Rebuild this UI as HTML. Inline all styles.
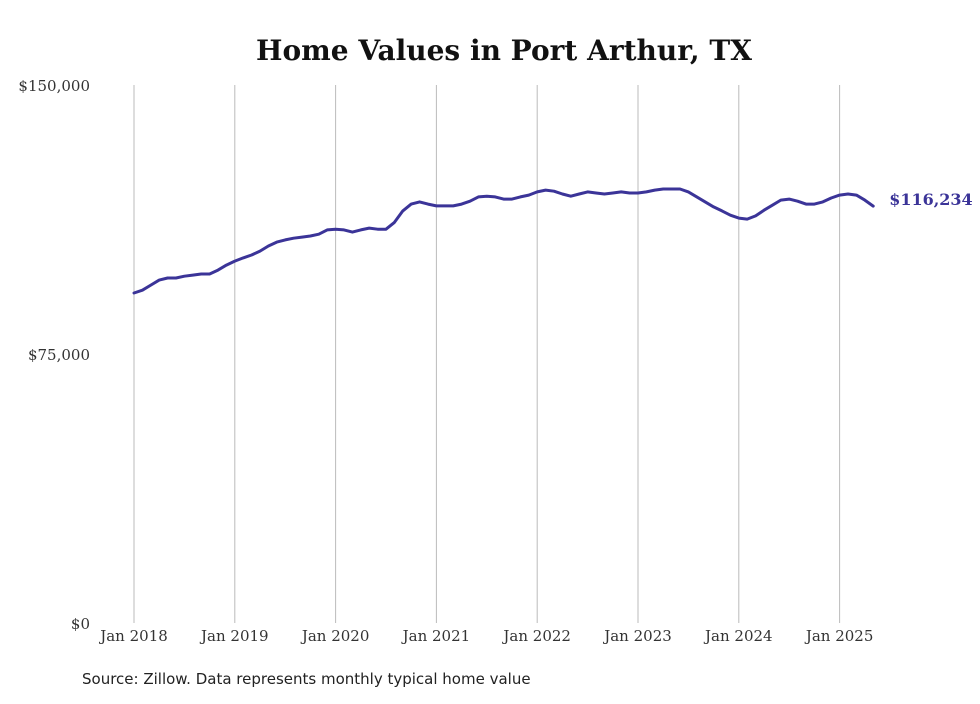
<!DOCTYPE html>
<html><head><meta charset="utf-8"><style>
body{margin:0;background:#fff;width:980px;height:699px;overflow:hidden}
</style></head><body>
<svg id="chart" width="980" height="699" xmlns="http://www.w3.org/2000/svg" font-family="'DejaVu Serif','Liberation Serif',serif">
<text x="504" y="60" text-anchor="middle" font-size="28" font-weight="bold" fill="#111">Home Values in Port Arthur, TX</text>
<text x="82" y="684" font-family="'DejaVu Sans','Liberation Sans',sans-serif" font-size="15" fill="#222">Source: Zillow. Data represents monthly typical home value</text>
<g id="grid"></g><g id="axes"></g><g id="series"></g>
</svg>
<script>
const yearLabels=["Jan 2018","Jan 2019","Jan 2020","Jan 2021","Jan 2022","Jan 2023","Jan 2024","Jan 2025"];
const yTicks=[0,75000,150000];
const yTickLabels=["$0","$75,000","$150,000"];
const values=[92.0,92.8,94.2,95.6,96.2,96.2,96.7,97.0,97.3,97.3,98.4,99.8,
100.9,101.8,102.6,103.7,105.1,106.2,106.8,107.3,107.6,107.9,108.4,109.6,
109.8,109.6,109.0,109.6,110.1,109.8,109.8,111.7,114.9,116.8,117.4,116.8,
116.3,116.3,116.3,116.8,117.6,118.8,119.0,118.8,118.2,118.2,118.8,119.3,
120.2,120.7,120.4,119.6,119.0,119.6,120.2,119.9,119.6,119.9,120.2,119.9,
119.9,120.2,120.7,121.0,121.0,121.0,120.2,118.8,117.4,116.0,114.9,113.7,
112.9,112.6,113.5,115.1,116.5,117.9,118.2,117.6,116.8,116.8,117.4,118.5,
119.3,119.6,119.3,117.9,116.234].map(v=>v*1000);
const lastLabel="$116,234";
const NS="http://www.w3.org/2000/svg";
const x0=134,monthW=100.8/12,yTop=85,yBot=623,yMax=150000;
const xS=m=>x0+m*monthW;
const yS=v=>yBot-(v/yMax)*(yBot-yTop);
function mk(t,a,p){const e=document.createElementNS(NS,t);for(const k in a)e.setAttribute(k,a[k]);p.appendChild(e);return e;}
const grid=document.getElementById('grid'),axes=document.getElementById('axes'),ser=document.getElementById('series');
yearLabels.forEach((lab,i)=>{
 const x=xS(i*12);
 const l=mk('line',{x1:x,x2:x,y1:yTop,y2:yBot,stroke:'#bbb','stroke-width':1},grid);
 
 
 const t=mk('text',{x:x,y:641,'text-anchor':'middle','font-size':15,fill:'#333'},axes);
 t.textContent=lab;
 
 
});
yTicks.forEach((v,i)=>{
 const t=mk('text',{x:90,y:yS(v)+6,'text-anchor':'end','font-size':15,fill:'#333'},axes);
 t.textContent=yTickLabels[i];
 
 
});
const d=values.map((v,i)=>(i?'L':'M')+xS(i).toFixed(1)+','+yS(v).toFixed(1)).join(' ');
const p=mk('path',{d:d,fill:'none',stroke:'#3b3498','stroke-width':3,'stroke-linejoin':'round','stroke-linecap':'round'},ser);


const li=values.length-1;
const lt=mk('text',{x:xS(li)+16,y:yS(values[li])-1,'font-size':16,'font-weight':'bold',fill:'#3b3498'},ser);
lt.textContent=lastLabel;


</script>
</body></html>
